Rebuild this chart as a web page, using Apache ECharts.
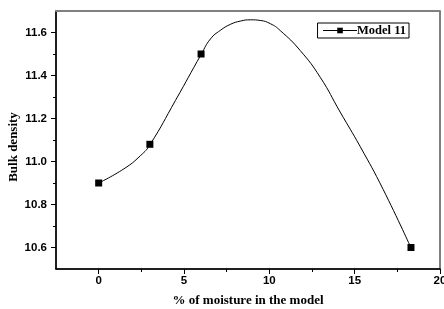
<!DOCTYPE html>
<html>
<head>
<meta charset="utf-8">
<script src="https://cdn.jsdelivr.net/npm/echarts@6/dist/echarts.min.js"></script>
<style>
  html, body { margin: 0; padding: 0; background: #fff; }
  #chart { width: 444px; height: 309px; }
</style>
</head>
<body>
<div id="chart"></div>
<script>
// measured points
const moisture = [0, 3, 6, 18.3];
const density = [10.9, 11.08, 11.5, 10.6];
// fitted curve as drawn
const curveX = [0, 1.48, 2.46, 3.02, 4.5, 6.02, 6.55, 7.13, 7.72, 8.3, 8.89, 9.47, 10.06, 10.64, 11.81, 12.98, 14.15, 15.32, 16.67, 18.29];
const curveY = [10.9, 10.966, 11.028, 11.08, 11.284, 11.5, 11.57, 11.61, 11.638, 11.653, 11.659, 11.656, 11.641, 11.609, 11.516, 11.392, 11.23, 11.07, 10.87, 10.6];
// ticks
const xTicks = [0, 5, 10, 15, 20];
const xMinorTicks = [2.5, 7.5, 12.5, 17.5];
const yTicks = [10.6, 10.8, 11.0, 11.2, 11.4, 11.6];
const yMinorTicks = [10.7, 10.9, 11.1, 11.3, 11.5];

const labelFont = { fontFamily: 'Liberation Sans', fontWeight: 'bold', fontSize: 11.5, color: '#000' };
const titleFont = { fontFamily: 'Liberation Serif', fontWeight: 'bold', fontSize: 13, color: '#000' };

const myChart = echarts.init(document.getElementById('chart'));
const option = {
    animation: false,
    grid: { left: 56, right: 4, top: 11, bottom: 40, show: true, borderColor: '#000', borderWidth: 1, outerBoundsMode: 'none', containLabel: false },
    legend: {
        data: ['Model 11'],
        right: 35, top: 23,
        padding: [1, 3, 1, 5],
        borderColor: '#000', borderWidth: 1,
        itemWidth: 34, itemHeight: 7,
        lineStyle: { color: '#000', width: 1, opacity: 1 },
        textStyle: { fontFamily: 'Liberation Serif', fontWeight: 'bold', fontSize: 12.5, color: '#000', padding: [0, 0, 0, -5] }
    },
    xAxis: [{
        type: 'value', min: -2.5, max: 20,
        name: '% of moisture in the model', nameLocation: 'middle', nameGap: 25,
        nameMoveOverlap: false,
        nameTextStyle: titleFont,
        splitLine: { show: false },
        axisLine: { onZero: false, lineStyle: { color: '#000', width: 1.5 } },
        axisTick: { length: 5, customValues: xTicks, lineStyle: { color: '#000' } },
        axisLabel: Object.assign({ customValues: xTicks, margin: 6 }, labelFont)
    }, {
        type: 'value', min: -2.5, max: 20, position: 'bottom',
        splitLine: { show: false },
        axisLine: { show: false, onZero: false },
        axisTick: { length: 3, customValues: xMinorTicks, lineStyle: { color: '#000' } },
        axisLabel: { show: false }
    }, {
        type: 'value', min: -2.5, max: 20, position: 'top',
        splitLine: { show: false },
        axisLine: { onZero: false, lineStyle: { color: '#808080', width: 2 } },
        axisTick: { show: false },
        axisLabel: { show: false }
    }],
    yAxis: [{
        type: 'value', min: 10.5, max: 11.7,
        name: 'Bulk density', nameLocation: 'middle', nameGap: 36,
        nameMoveOverlap: false,
        nameTextStyle: Object.assign({ padding: [0, 14, 0, 0] }, titleFont),
        splitLine: { show: false },
        axisLine: { onZero: false, lineStyle: { color: '#000', width: 1.5 } },
        axisTick: { length: 5, customValues: yTicks, lineStyle: { color: '#000' } },
        axisLabel: Object.assign({ customValues: yTicks, margin: 9, formatter: v => v.toFixed(1) }, labelFont)
    }, {
        type: 'value', min: 10.5, max: 11.7, position: 'left',
        splitLine: { show: false },
        axisLine: { show: false, onZero: false },
        axisTick: { length: 3, customValues: yMinorTicks, lineStyle: { color: '#000' } },
        axisLabel: { show: false }
    }],
    series: [{
        name: 'curve',
        type: 'line',
        smooth: true,
        showSymbol: false,
        silent: true,
        lineStyle: { color: '#000', width: 1 },
        data: curveX.map((x, i) => [x, curveY[i]])
    }, {
        name: 'Model 11',
        type: 'line',
        symbol: 'rect',
        symbolSize: 7,
        showSymbol: true,
        itemStyle: { color: '#000' },
        lineStyle: { opacity: 0 },
        z: 5,
        data: moisture.map((x, i) => [x, density[i]])
    }]
};
myChart.setOption(option);
</script>
</body>
</html>
